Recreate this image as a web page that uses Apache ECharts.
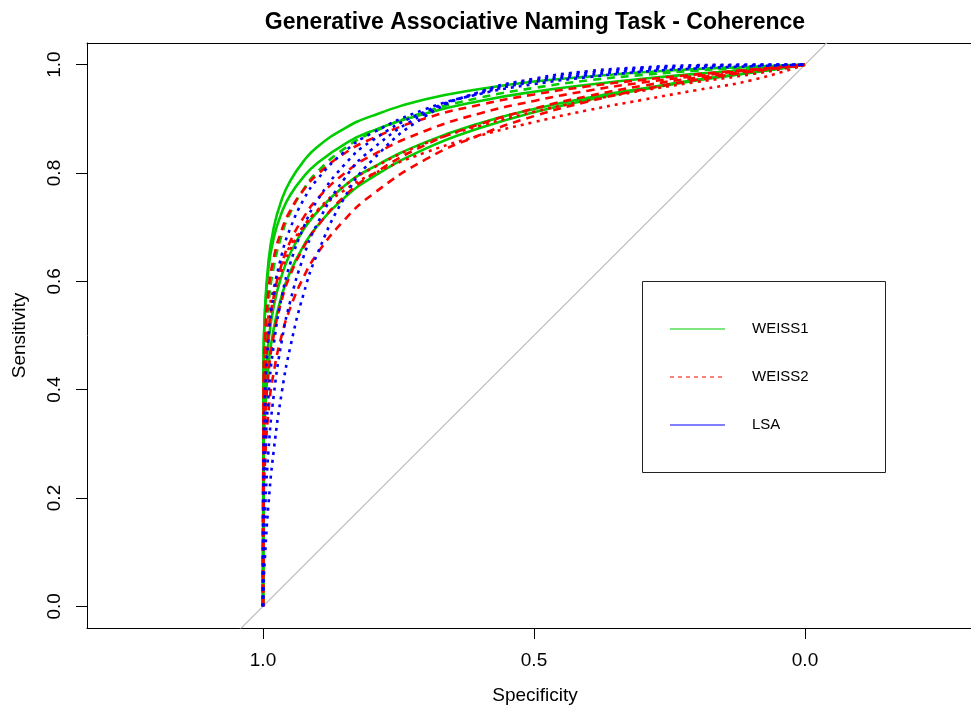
<!DOCTYPE html>
<html>
<head>
<meta charset="utf-8">
<script src="https://cdn.jsdelivr.net/npm/echarts@6/dist/echarts.min.js"></script>
<style>
  html, body { margin: 0; padding: 0; background: #fff; }
  #chart { width: 971px; height: 711px; }
</style>
</head>
<body>
<div id="chart"></div>
<script>
// Smoothed ROC curves: sensitivity at each specificity value.
const specificity = [1, 0.999, 0.997, 0.99, 0.98, 0.965, 0.95, 0.925, 0.9, 0.85, 0.8, 0.7, 0.6, 0.5, 0.4, 0.3, 0.2, 0.1, 0];

// WEISS1
const weiss1A = [0, 0.441, 0.530, 0.636, 0.700, 0.752, 0.785, 0.822, 0.848, 0.882, 0.905, 0.936, 0.955, 0.969, 0.978, 0.986, 0.992, 0.996, 1];
const weiss1B = [0, 0.452, 0.530, 0.623, 0.681, 0.728, 0.759, 0.793, 0.818, 0.853, 0.877, 0.910, 0.933, 0.950, 0.963, 0.974, 0.983, 0.991, 1];
const weiss1C = [0, 0.310, 0.387, 0.488, 0.555, 0.612, 0.651, 0.696, 0.728, 0.776, 0.809, 0.857, 0.892, 0.918, 0.939, 0.956, 0.972, 0.985, 1];
const weiss1D = [0, 0.265, 0.341, 0.445, 0.514, 0.575, 0.617, 0.666, 0.702, 0.754, 0.791, 0.845, 0.883, 0.912, 0.935, 0.954, 0.971, 0.985, 1];
const weiss1E = [0, 0.352, 0.441, 0.555, 0.627, 0.687, 0.726, 0.770, 0.802, 0.845, 0.874, 0.913, 0.939, 0.957, 0.971, 0.981, 0.989, 0.995, 1];

// WEISS2
const weiss2A = [0, 0.400, 0.481, 0.581, 0.644, 0.696, 0.730, 0.769, 0.797, 0.836, 0.863, 0.901, 0.926, 0.945, 0.960, 0.972, 0.982, 0.991, 1];
const weiss2B = [0, 0.316, 0.398, 0.504, 0.573, 0.633, 0.673, 0.718, 0.752, 0.799, 0.832, 0.878, 0.910, 0.933, 0.952, 0.967, 0.979, 0.990, 1];
const weiss2C = [0, 0.242, 0.320, 0.428, 0.501, 0.567, 0.611, 0.663, 0.701, 0.757, 0.796, 0.852, 0.890, 0.919, 0.942, 0.961, 0.976, 0.988, 1];
const weiss2D = [0, 0.180, 0.252, 0.358, 0.433, 0.502, 0.550, 0.608, 0.651, 0.713, 0.759, 0.825, 0.870, 0.905, 0.932, 0.954, 0.972, 0.987, 1];
const weiss2E = [0, 0.384, 0.451, 0.535, 0.588, 0.635, 0.665, 0.702, 0.729, 0.768, 0.797, 0.838, 0.869, 0.894, 0.916, 0.935, 0.953, 0.971, 1];
const weiss2F = [0, 0.333, 0.408, 0.504, 0.567, 0.621, 0.658, 0.700, 0.731, 0.776, 0.808, 0.855, 0.887, 0.913, 0.934, 0.952, 0.968, 0.982, 1];

// LSA
const lsaA = [0, 0.271, 0.366, 0.494, 0.579, 0.651, 0.697, 0.751, 0.788, 0.839, 0.873, 0.918, 0.946, 0.964, 0.977, 0.987, 0.993, 0.997, 1];
const lsaB = [0, 0.161, 0.249, 0.386, 0.484, 0.573, 0.632, 0.700, 0.749, 0.815, 0.859, 0.914, 0.947, 0.968, 0.981, 0.990, 0.996, 0.999, 1];
const lsaC = [0, 0.085, 0.156, 0.286, 0.391, 0.492, 0.562, 0.646, 0.706, 0.789, 0.843, 0.910, 0.949, 0.971, 0.985, 0.993, 0.997, 0.999, 1];
const lsaD = [0, 0.034, 0.080, 0.187, 0.289, 0.397, 0.477, 0.577, 0.650, 0.754, 0.822, 0.905, 0.950, 0.974, 0.988, 0.995, 0.999, 1.000, 1];

const xTicks = [0, 0.5, 1];
const yTicks = [0, 0.2, 0.4, 0.6, 0.8, 1];
const legendNames = ['WEISS1', 'WEISS2', 'LSA'];

// chance diagonal (sensitivity = 1 - specificity)
const chanceSpec = [1.2, -0.2];
const chanceSens = [-0.2, 1.2];

const GREEN = '#00cd00', RED = '#ff0000', BLUE = '#0000ff';
const SOLID = 'solid', DASHED = [8, 6], DOTTED = [3, 5];

const curves = [
  { values: weiss1A, color: GREEN, dash: SOLID },
  { values: weiss1B, color: GREEN, dash: SOLID },
  { values: weiss1C, color: GREEN, dash: SOLID },
  { values: weiss1D, color: GREEN, dash: SOLID },
  { values: weiss1E, color: GREEN, dash: DASHED },
  { values: weiss2A, color: RED, dash: DASHED },
  { values: weiss2B, color: RED, dash: DASHED },
  { values: weiss2C, color: RED, dash: DASHED },
  { values: weiss2D, color: RED, dash: DASHED },
  { values: weiss2E, color: RED, dash: DOTTED },
  { values: weiss2F, color: RED, dash: DOTTED },
  { values: lsaA, color: BLUE, dash: DOTTED },
  { values: lsaB, color: BLUE, dash: DOTTED },
  { values: lsaC, color: BLUE, dash: DOTTED },
  { values: lsaD, color: BLUE, dash: DOTTED }
];

const FONT = '"Liberation Sans", Arial, Helvetica, sans-serif';

const series = [{
  type: 'line',
  data: chanceSpec.map((s, i) => [s, chanceSens[i]]),
  symbol: 'none',
  silent: true,
  clip: true,
  lineStyle: { color: '#bebebe', width: 1.2 }
}].concat(curves.map(c => ({
  type: 'line',
  data: specificity.map((s, i) => [s, c.values[i]]),
  symbol: 'none',
  silent: true,
  clip: true,
  smooth: 0.5,
  lineStyle: { color: c.color, width: 2.6, type: c.dash, cap: 'butt' }
})));

// legend box drawn as graphic elements
const legendColors = [GREEN, RED, BLUE];
const legendDash = [null, [4, 4], null];
const legendGraphics = [{
  type: 'rect',
  shape: { x: 642.5, y: 281.5, width: 243, height: 191 },
  style: { fill: '#fff', stroke: '#222', lineWidth: 1 }
}];
legendNames.forEach((name, i) => {
  const y = 329 + i * 48;
  legendGraphics.push({
    type: 'line',
    shape: { x1: 670, y1: y, x2: 725, y2: y },
    style: { stroke: legendColors[i], lineWidth: 1, lineDash: legendDash[i] }
  });
  legendGraphics.push({
    type: 'text',
    x: 752, y: y,
    style: { text: name, fill: '#000', font: '15px ' + FONT, verticalAlign: 'middle', align: 'left' }
  });
});

const chart = echarts.init(document.getElementById('chart'), null, { renderer: 'canvas' });
chart.setOption({
  animation: false,
  backgroundColor: '#fff',
  title: {
    text: 'Generative Associative Naming Task - Coherence',
    left: 530,
    top: 6,
    textAlign: 'center',
    textStyle: { fontFamily: FONT, fontSize: 23, fontWeight: 'bold', color: '#000' }
  },
  grid: {
    left: 87, top: 43, right: 0, height: 585,
    show: false
  },
  xAxis: [{
    type: 'value',
    inverse: true,
    min: -0.3063, max: 1.3247,
    name: 'Specificity',
    nameLocation: 'middle',
    nameGap: 58,
    nameTextStyle: { fontFamily: FONT, fontSize: 19, color: '#000', padding: [0, 0, 0, 12] },
    axisLine: { show: true, onZero: false, lineStyle: { color: '#000', width: 1 } },
    axisTick: { show: true, customValues: xTicks, length: 11, lineStyle: { color: '#000' } },
    axisLabel: {
      customValues: xTicks, margin: 23,
      formatter: v => v.toFixed(1),
      fontFamily: FONT, fontSize: 19, color: '#000'
    },
    splitLine: { show: false }
  }, {
    // top edge of the plot box
    type: 'value',
    position: 'top',
    inverse: true,
    min: -0.3063, max: 1.3247,
    axisLine: { show: true, onZero: false, lineStyle: { color: '#000', width: 1 } },
    axisTick: { show: false },
    axisLabel: { show: false },
    splitLine: { show: false }
  }],
  yAxis: {
    type: 'value',
    min: -0.04, max: 1.04,
    name: 'Sensitivity',
    nameLocation: 'middle',
    nameGap: 58,
    nameTextStyle: { fontFamily: FONT, fontSize: 19, color: '#000' },
    axisLine: { show: true, onZero: false, lineStyle: { color: '#000', width: 1 } },
    axisTick: { show: true, customValues: yTicks, length: 11, lineStyle: { color: '#000' } },
    axisLabel: {
      customValues: yTicks, margin: 23, rotate: 90,
      formatter: v => v.toFixed(1),
      fontFamily: FONT, fontSize: 19, color: '#000'
    },
    splitLine: { show: false }
  },
  series: series,
  graphic: legendGraphics
});
</script>
</body>
</html>
